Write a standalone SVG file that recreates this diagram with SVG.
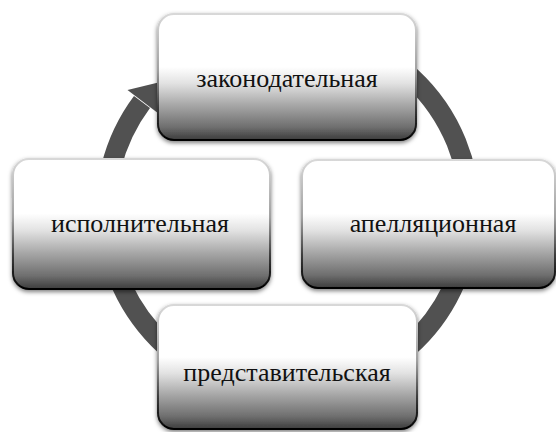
<svg xmlns="http://www.w3.org/2000/svg" width="556" height="432" viewBox="0 0 556 432">
<style>
.box{fill:url(#boxFill);stroke:url(#boxEdge);stroke-width:2;filter:url(#shadow)}
.lbl{font-family:'Times New Roman','Liberation Serif','DejaVu Serif',serif;font-size:26px;fill:#111;text-anchor:middle}
.ring{fill:none;stroke:#515151;stroke-width:20}
.head{fill:#515151}
</style>
<defs>
<linearGradient id="boxFill" x1="0" y1="0" x2="0" y2="1">
<stop offset="0" stop-color="#ffffff"/>
<stop offset="0.42" stop-color="#ffffff"/>
<stop offset="0.55" stop-color="#e2e2e2"/>
<stop offset="0.72" stop-color="#a8a8a8"/>
<stop offset="0.9" stop-color="#6e6e6e"/>
<stop offset="1" stop-color="#3c3c3c"/>
</linearGradient>
<linearGradient id="boxEdge" x1="0" y1="0" x2="0" y2="1">
<stop offset="0" stop-color="#d8d8d8"/>
<stop offset="0.45" stop-color="#a0a0a0"/>
<stop offset="0.75" stop-color="#3a3a3a"/>
<stop offset="1" stop-color="#000000"/>
</linearGradient>
<filter id="shadow" x="-10%" y="-10%" width="120%" height="130%">
<feDropShadow dx="0" dy="2" stdDeviation="2" flood-color="#000" flood-opacity="0.5"/>
</filter>
</defs>
<rect width="556" height="432" fill="#ffffff"/>
<g id="connectors">
<path class="ring" d="M 350.2 40 A 182 182 0 1 1 142.0 102.0"/>
<polygon class="head" points="127.5,90 159.3,82.3 157.8,112.9"/>
</g>
<g id="node-zakon">
<rect class="box" x="158" y="14" width="258" height="126" rx="16"/>
<text class="lbl" x="287" y="87">законодательная</text>
</g>
<g id="node-apell">
<rect class="box" x="302" y="160" width="253" height="128" rx="16"/>
<text class="lbl" x="433" y="232">апелляционная</text>
</g>
<g id="node-predst">
<rect class="box" x="158" y="305" width="259" height="124" rx="16"/>
<text class="lbl" x="287" y="381">представительская</text>
</g>
<g id="node-ispoln">
<rect class="box" x="13" y="159" width="257" height="130" rx="16"/>
<text class="lbl" x="140" y="232">исполнительная</text>
</g>
</svg>
